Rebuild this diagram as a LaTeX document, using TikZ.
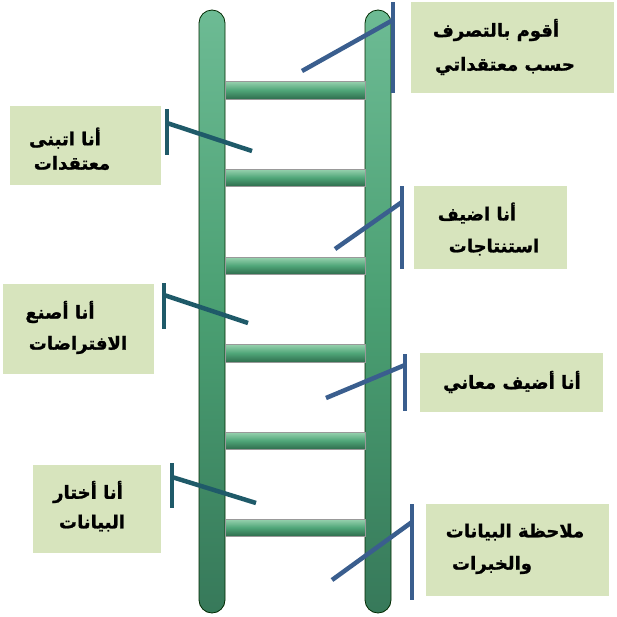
\documentclass[tikz,border=0pt]{standalone}
\usepackage{fontspec}
\newfontfamily\arabicfont[Script=Arabic, BoldFeatures={FakeBold=1.2}]{DejaVu Sans}
\TeXXeTstate=1
\definecolor{railtop}{HTML}{6DBB94}
\definecolor{railmid}{HTML}{4A9F72}
\definecolor{railbot}{HTML}{37795A}
\definecolor{rungtop}{HTML}{9AD3B0}
\definecolor{rungmid}{HTML}{50A679}
\definecolor{rungbot}{HTML}{2F6E4E}
\definecolor{boxfill}{HTML}{D7E4BD}
\definecolor{emph1}{HTML}{3A5E8E}
\definecolor{emph2}{HTML}{1F5A69}

\begin{document}
\begin{tikzpicture}[x=1pt, y=-1pt,
  box/.style={fill=boxfill, draw=none, inner sep=0pt},
  lbl/.style={font=\arabicfont\bfseries\fontsize{18}{21}\selectfont, inner sep=0pt},
  rung/.style={top color=rungtop, bottom color=rungbot, middle color=rungmid, draw=gray!80, line width=0.8pt},
  rail/.style={top color=railtop, bottom color=railbot, middle color=railmid, draw=black!60!green!40!black, line width=0.8pt, rounded corners=13pt},
  callout/.style={line width=4.5pt}]
  \useasboundingbox (0,0) rectangle (617,616);
  \def\lx{199};
  \def\rx{365};
  \def\rw{26};
  %rails
  \path[rail] (\lx,10) rectangle (\lx+\rw,613);
  \path[rail] (\rx,10) rectangle (\rx+\rw,613);
  %rungs
  \path[rung] (\lx+\rw,81) rectangle (\rx,99);
  \path[rung] (\lx+\rw,169) rectangle (\rx,186);
  \path[rung] (\lx+\rw,257) rectangle (\rx,274);
  \path[rung] (\lx+\rw,344) rectangle (\rx,362);
  \path[rung] (\lx+\rw,432) rectangle (\rx,449);
  \path[rung] (\lx+\rw,519) rectangle (\rx,536);

  %boxes
  \node[box, minimum width=203, minimum height=91] (b1) at (512.5,47.5) {};
  \node[box, minimum width=151, minimum height=79] (b2) at (85.5,145.5) {};
  \node[box, minimum width=153, minimum height=83] (b3) at (490.5,227.5) {};
  \node[box, minimum width=151, minimum height=90] (b4) at (78.5,329) {};
  \node[box, minimum width=183, minimum height=59] (b5) at (511.5,382.5) {};
  \node[box, minimum width=128, minimum height=88] (b6) at (97,509) {};
  \node[box, minimum width=183, minimum height=92] (b7) at (517.5,550) {};

  %texts
  \node[lbl] (t1a) at (496,30) {\beginR أقوم بالتصرف\endR};
  \node[lbl] (t1b) at (505,66) {\beginR حسب معتقداتي\endR};
  \node[lbl] (t2a) at (65,138) {\beginR أنا اتبنى\endR};
  \node[lbl] (t2b) at (72,163) {\beginR معتقدات\endR};
  \node[lbl] (t3a) at (477,213) {\beginR أنا اضيف\endR};
  \node[lbl] (t3b) at (494,247) {\beginR استنتاجات\endR};
  \node[lbl] (t4a) at (60,312) {\beginR أنا أصنع\endR};
  \node[lbl] (t4b) at (78,345) {\beginR الافتراضات\endR};
  \node[lbl] (t5a) at (512,382) {\beginR أنا أضيف معاني\endR};
  \node[lbl] (t6a) at (88,492) {\beginR أنا أختار\endR};
  \node[lbl] (t6b) at (92,523) {\beginR البيانات\endR};
  \node[lbl] (t7a) at (515,532) {\beginR ملاحظة البيانات\endR};
  \node[lbl] (t7b) at (492,565) {\beginR والخبرات\endR};

  %callout points
  \coordinate (v1a) at (393,2);   \coordinate (v1b) at (393,93);
  \coordinate (d1a) at (393,20);  \coordinate (d1b) at (302,71);
  \coordinate (v2a) at (167,109); \coordinate (v2b) at (167,155);
  \coordinate (d2a) at (167,123); \coordinate (d2b) at (252,151);
  \coordinate (v3a) at (402,186); \coordinate (v3b) at (402,269);
  \coordinate (d3a) at (402,202); \coordinate (d3b) at (335,249);
  \coordinate (v4a) at (164,283); \coordinate (v4b) at (164,329);
  \coordinate (d4a) at (164,295); \coordinate (d4b) at (248,323);
  \coordinate (v5a) at (405,354); \coordinate (v5b) at (405,411);
  \coordinate (d5a) at (405,365); \coordinate (d5b) at (326,398);
  \coordinate (v6a) at (172,463); \coordinate (v6b) at (172,508);
  \coordinate (d6a) at (172,477); \coordinate (d6b) at (256,503);
  \coordinate (v7a) at (412,504); \coordinate (v7b) at (412,600);
  \coordinate (d7a) at (412,522); \coordinate (d7b) at (332,580);

  %right callouts
  \draw[callout, emph1] (v1a)--(v1b);
  \draw[callout, emph1] (d1a)--(d1b);
  \draw[callout, emph1] (v3a)--(v3b);
  \draw[callout, emph1] (d3a)--(d3b);
  \draw[callout, emph1] (v5a)--(v5b);
  \draw[callout, emph1] (d5a)--(d5b);
  \draw[callout, emph1] (v7a)--(v7b);
  \draw[callout, emph1] (d7a)--(d7b);
  %left callouts
  \draw[callout, emph2] (v2a)--(v2b);
  \draw[callout, emph2] (d2a)--(d2b);
  \draw[callout, emph2] (v4a)--(v4b);
  \draw[callout, emph2] (d4a)--(d4b);
  \draw[callout, emph2] (v6a)--(v6b);
  \draw[callout, emph2] (d6a)--(d6b);
\end{tikzpicture}
\end{document}
